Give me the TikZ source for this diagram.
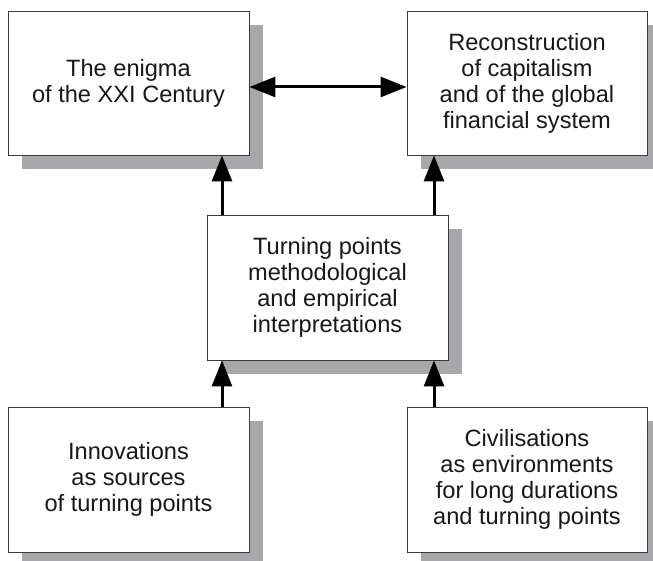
\documentclass[tikz,border=0pt]{standalone}
\usepackage{fontspec}
\setmainfont{Liberation Sans}
\usetikzlibrary{arrows.meta,shadows}
\definecolor{shadowc}{HTML}{A7A8AB}
\definecolor{edgec}{HTML}{3A3A3A}
\definecolor{textc}{HTML}{1A1718}
\begin{document}
\begin{tikzpicture}[x=1pt,y=-1pt,
  box/.style={draw=edgec,line width=0.9pt,fill=white,align=center,
    text=textc,inner sep=0pt,
    font=\fontsize{23.6pt}{26pt}\selectfont,
    drop shadow={shadow xshift=14pt,shadow yshift=-14pt,fill=shadowc,opacity=1}},
  conn/.style={line width=3pt,draw=black,-{Triangle[length=26pt,width=20pt]}},
  dconn/.style={line width=3pt,draw=black,{Triangle[length=26pt,width=20pt]}-{Triangle[length=26pt,width=20pt]}}]
\useasboundingbox (0,0) rectangle (653,561);
\node[box,minimum width=241pt,minimum height=144pt] (tl) at (128.5,83) {The enigma\\of the XXI Century};
\node[box,minimum width=240pt,minimum height=144pt] (tr) at (527,83) {Reconstruction\\of capitalism\\and of the global\\financial system};
\node[box,minimum width=241pt,minimum height=145pt] (mid) at (327.5,287.5) {Turning points\\methodological\\and empirical\\interpretations};
\node[box,minimum width=241pt,minimum height=145pt] (bl) at (128.5,479.5) {Innovations\\as sources\\of turning points};
\node[box,minimum width=240pt,minimum height=145pt] (br) at (527,479.5) {Civilisations\\as environments\\for long durations\\and turning points};
\coordinate (xl) at (222,0);
\coordinate (xr) at (434,0);
\coordinate (yh) at (0,87);
\draw[dconn] (tl.east |- yh) -- (tr.west |- yh);
\draw[conn] (mid.north -| xl) -- (tl.south -| xl);
\draw[conn] (mid.north -| xr) -- (tr.south -| xr);
\draw[conn] (bl.north -| xl) -- (mid.south -| xl);
\draw[conn] (br.north -| xr) -- (mid.south -| xr);
\end{tikzpicture}
\end{document}
